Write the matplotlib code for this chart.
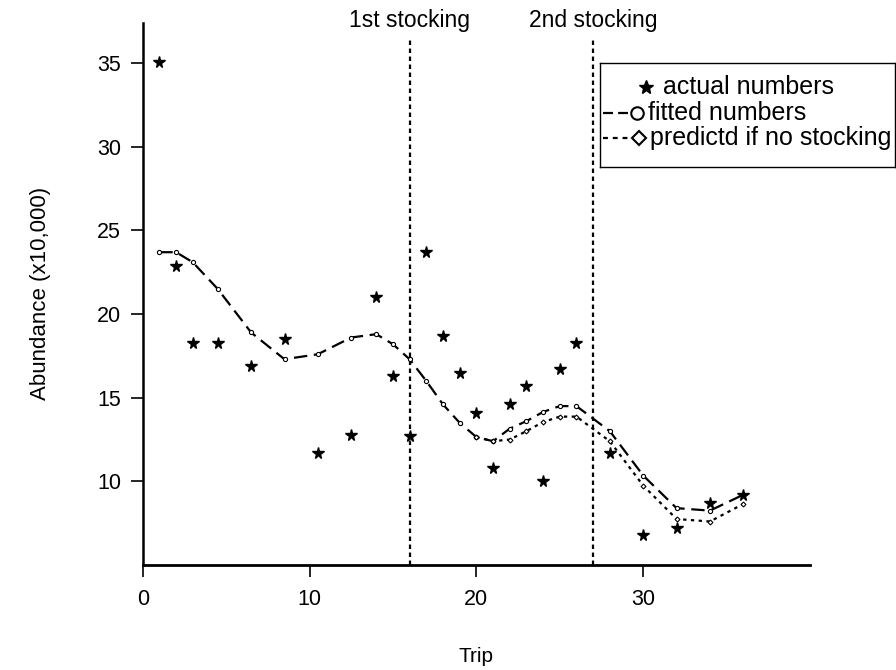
import numpy as np
import matplotlib
matplotlib.use('Agg')
import matplotlib.pyplot as plt

plt.rcParams['font.family'] = ['Liberation Sans', 'DejaVu Sans']

# ---- data ----
trips = [1, 2, 3, 4.5, 6.5, 8.5, 10.5, 12.5, 14, 15, 16, 17, 18, 19, 20, 21,
         22, 23, 24, 25, 26, 28, 30, 32, 34, 36]
actual = [35.1, 22.9, 18.3, 18.3, 16.9, 18.5, 11.7, 12.8, 21.0, 16.3, 12.7,
          23.7, 18.7, 16.5, 14.1, 10.8, 14.6, 15.7, 10.0, 16.7, 18.3, 11.7,
          6.8, 7.2, 8.7, 9.2]
fitted = [23.7, 23.7, 23.1, 21.5, 18.9, 17.3, 17.6, 18.6, 18.8, 18.2, 17.3,
          16.0, 14.6, 13.5, 12.65, 12.4, 13.15, 13.6, 14.15, 14.5, 14.5, 13.0,
          10.35, 8.4, 8.25, 9.2]
pred_trips = [20, 21, 22, 23, 24, 25, 26, 28, 30, 32, 34, 36]
predicted = [12.65, 12.4, 12.5, 13.0, 13.55, 13.87, 13.87, 12.4, 9.75, 7.75,
             7.6, 8.65]
stocking_trips = [16, 27]
stocking_labels = ['1st stocking', '2nd stocking']
xticks = [0, 10, 20, 30]
yticks = [10, 15, 20, 25, 30, 35]
legend_labels = ['actual numbers', 'fitted numbers', 'predictd if no stocking']

W, H = 896, 670
fig = plt.figure(figsize=(W / 100, H / 100), dpi=100)
ax = fig.add_axes([142.7 / W, (H - 565) / H, (810 - 142.7) / W, (565 - 22.7) / H])

ax.vlines(stocking_trips, 5, 36.43, colors='black', linestyles=(0, (2, 1.6)), lw=1.6)
ax.plot(trips, fitted, color='black', lw=1.6, dashes=(6, 3),
        marker='o', ms=3, mfc='white', mec='black', mew=0.8)
ax.plot(pred_trips, predicted, color='black', lw=1.6, dashes=(1.5, 2),
        marker='D', ms=2.5, mfc='white', mec='black', mew=0.8)
ax.plot(trips, actual, ls='none', marker='*', ms=8.5, color='black', zorder=5)

for t, lab in zip(stocking_trips, stocking_labels):
    ax.text(t, 37.54, lab, ha='center', va='center', fontsize=16.5)

ax.set_xlim(0, 40)
ax.set_ylim(5, 37.42)
ax.set_xticks(xticks)
ax.set_yticks(yticks)
for s in ['top', 'right']:
    ax.spines[s].set_visible(False)
ax.spines['left'].set_linewidth(1.8)
ax.spines['bottom'].set_linewidth(2.0)
ax.tick_params(direction='out', length=8.5, width=1.2, labelsize=15.5)
ax.tick_params(axis='x', pad=9)
ax.tick_params(axis='y', pad=7)

ax.set_xlabel('Trip', fontsize=15)
ax.xaxis.set_label_coords(0.5, -0.152)
ax.set_ylabel('Abundance (x10,000)', fontsize=16)
ax.yaxis.set_label_coords(-0.138, 0.5)

# ---- legend box ----
lax = fig.add_axes([600 / W, (H - 167) / H, 295 / W, 104 / H])
lax.set_xlim(0, 295)
lax.set_ylim(104, 0)
lax.set_xticks([])
lax.set_yticks([])
for s in lax.spines.values():
    s.set_linewidth(1.0)

lax.plot([46], [24], marker='*', ms=10.5, color='black', ls='none')
lax.text(63, 24, legend_labels[0], va='center', fontsize=18)
lax.plot([3, 28], [50, 50], color='black', lw=1.6, dashes=(4.5, 2.3))
lax.plot([37], [50], marker='o', ms=9, mfc='white', mec='black', mew=1.5)
lax.text(48, 50, legend_labels[1], va='center', fontsize=18)
lax.plot([3, 28], [75, 75], color='black', lw=1.6, dashes=(2.2, 2.2))
lax.plot([39], [75], marker='D', ms=7, mfc='white', mec='black', mew=1.5)
lax.text(50, 75, legend_labels[2], va='center', fontsize=18)

fig.savefig('out.png', dpi=100)
